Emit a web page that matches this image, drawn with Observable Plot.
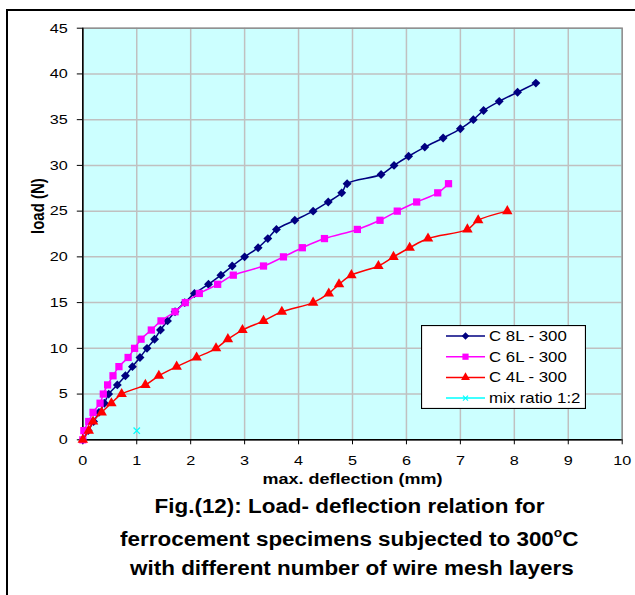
<!DOCTYPE html>
<html>
<head>
<meta charset="utf-8">
<script src="https://cdn.jsdelivr.net/npm/d3@7"></script>
<script src="https://cdn.jsdelivr.net/npm/@observablehq/plot@0.6"></script>
<style>
  body { margin: 0; background: #fff; }
  #wrap { position: relative; width: 635px; height: 595px; overflow: hidden;
          font-family: Arial, "Liberation Sans", sans-serif; color: #000; }
  #frame { position: absolute; left: 6px; top: 9px; width: 700px; height: 700px;
           border-left: 2px solid #000; border-top: 2px solid #000; }
  #chart { position: absolute; left: 0; top: 0; }
  #legend { position: absolute; left: 421px; top: 325px; }
  .cap { position: absolute; left: 0; width: 700px; text-align: center;
         font-weight: bold; font-size: 19.5px; white-space: nowrap; }
  .cap span { display: inline-block; transform: scaleX(1.15); }
  .cap sup { font-size: 12px; position: relative; top: -1px; }
</style>
</head>
<body>
<div id="wrap">
  <div id="frame"></div>
  <div id="chart"></div>
  <div id="legend"></div>
  <div class="cap" style="width:700px;top:495px"><span>Fig.(12): Load- deflection relation for</span></div>
  <div class="cap" style="width:698px;top:527px"><span>ferrocement specimens subjected to 300<sup>o</sup>C</span></div>
  <div class="cap" style="width:703px;top:557px"><span>with different number of wire mesh layers</span></div>
</div>
<script>
// Series names
const seriesNames = ["C 8L - 300", "C 6L - 300", "C 4L - 300", "mix ratio 1:2"];

// C 8L - 300
const deflection8L = [0, 0.1, 0.2, 0.3, 0.4, 0.48, 0.64, 0.79, 0.92, 1.06, 1.19, 1.33, 1.44, 1.57, 1.71,
  1.89, 2.07, 2.33, 2.56, 2.77, 3.0, 3.25, 3.43, 3.59, 3.93, 4.27, 4.55, 4.8, 4.9, 5.53, 5.77, 6.04,
  6.34, 6.68, 7.0, 7.24, 7.43, 7.72, 8.06, 8.4];
const load8L = [0, 1, 2, 3, 4, 5, 6, 7, 8, 9, 10, 11, 12, 13, 14, 15, 16, 17, 18, 19, 20, 21, 22, 23,
  24, 25, 26, 27, 28, 29, 30, 31, 32, 33, 34, 35, 36, 37, 38, 39];

// C 6L - 300
const deflection6L = [0, 0.02, 0.11, 0.19, 0.32, 0.38, 0.46, 0.56, 0.67, 0.84, 0.96, 1.08, 1.27, 1.45,
  1.71, 1.9, 2.16, 2.5, 2.79, 3.35, 3.72, 4.07, 4.48, 5.09, 5.51, 5.83, 6.19, 6.58, 6.78];
const load6L = [0, 1, 2, 3, 4, 5, 6, 7, 8, 9, 10, 11, 12, 13, 14, 15, 16, 17, 18, 19, 20, 21, 22, 23,
  24, 25, 26, 27, 28];

// C 4L - 300
const deflection4L = [0, 0.11, 0.19, 0.35, 0.53, 0.72, 1.16, 1.41, 1.74, 2.11, 2.47, 2.69, 2.96, 3.35,
  3.69, 4.27, 4.56, 4.75, 4.98, 5.48, 5.76, 6.06, 6.4, 7.13, 7.33, 7.87];
const load4L = [0, 1, 2, 3, 4, 5, 6, 7, 8, 9, 10, 11, 12, 13, 14, 15, 16, 17, 18, 19, 20, 21, 22, 23,
  24, 25];

// mix ratio 1:2
const deflectionMix = [1];
const loadMix = [1];

// Axis ticks
const xTickValues = [0, 1, 2, 3, 4, 5, 6, 7, 8, 9, 10];
const yTickValues = [0, 5, 10, 15, 20, 25, 30, 35, 40, 45];

const xTitle = "max. deflection (mm)";
const yTitle = "load (N)";

const styles = [
  { color: "#000080", symbol: "diamond2", r: 4.0 },
  { color: "#ff00ff", symbol: "square", r: 4.1 },
  { color: "#ff0000", symbol: "triangle", r: 3.9 },
  { color: "#00ffff", symbol: "times", r: 3.0 }
];

const seriesData = [
  [deflection8L, load8L],
  [deflection6L, load6L],
  [deflection4L, load4L],
  [deflectionMix, loadMix]
].map(([xs, ys], k) => xs.map((x, i) => ({ series: seriesNames[k], x, y: ys[i] })));

const marks = [
  Plot.frame({ fill: "#ccffff" }),
  Plot.gridX({ ticks: xTickValues, stroke: "#c0c0c0", strokeOpacity: 1, strokeWidth: 1.5 }),
  Plot.gridY({ ticks: yTickValues, stroke: "#c0c0c0", strokeOpacity: 1, strokeWidth: 1.5 }),
  Plot.frame({ stroke: "#8c8c8c", strokeWidth: 1.4 }),
  Plot.ruleX([0], { stroke: "#000", strokeWidth: 1.5 }),
  Plot.ruleY([0], { stroke: "#000", strokeWidth: 1.5 }),
  Plot.axisX({ ticks: xTickValues, tickSize: 5, tickPadding: 11, label: null, fontSize: 13.5 }),
  Plot.axisY({ ticks: yTickValues, tickSize: 5.5, tickPadding: 9.5, label: null, fontSize: 13.5 })
];

seriesData.forEach((rows, k) => {
  const s = styles[k];
  if (rows.length > 1) {
    marks.push(Plot.line(rows, { x: "x", y: "y", stroke: s.color, strokeWidth: 1.5, curve: "catmull-rom" }));
  }
  if (s.symbol === "times") {
    marks.push(Plot.dot(rows, { x: "x", y: "y", symbol: s.symbol, r: s.r, stroke: s.color, strokeWidth: 1.3 }));
  } else {
    marks.push(Plot.dot(rows, { x: "x", y: "y", symbol: s.symbol, r: s.r, fill: s.color, stroke: "none" }));
  }
});

marks.push(
  Plot.text([xTitle], { text: d => d, frameAnchor: "bottom", dy: 44, fontWeight: "bold", fontSize: 15 }),
  Plot.text([yTitle], { text: d => d, frameAnchor: "left", dx: -45, rotate: -90, fontWeight: "bold", fontSize: 15 })
);

const chart = Plot.plot({
  width: 635,
  height: 490,
  marginLeft: 82.3,
  marginTop: 27.7,
  marginRight: 13.3,
  marginBottom: 50.7,
  style: { background: "transparent", color: "#000", fontFamily: "Arial, 'Liberation Sans', sans-serif", fontSize: "13.5px" },
  x: { domain: [0, 10] },
  y: { domain: [0, 45] },
  marks
});

// Widen the lettering horizontally around each text's own anchor point
function widenText(svg, k) {
  const isNum = v => v != null && /^-?\d*\.?\d+(e-?\d+)?$/.test(v.trim());
  svg.querySelectorAll("text").forEach(t => {
    const tr = t.getAttribute("transform") || "";
    let tx = 0, ty = 0;
    const xa = t.getAttribute("x"), ya = t.getAttribute("y");
    if (isNum(xa)) { tx = +xa; t.removeAttribute("x"); }
    if (isNum(ya)) { ty = +ya; t.removeAttribute("y"); }
    const sc = tr.includes("rotate") ? `scale(1,${k})` : `scale(${k},1)`;
    t.setAttribute("transform", `${tr} translate(${tx},${ty}) ${sc}`.trim());
  });
}
widenText(chart, 1.2);
document.getElementById("chart").appendChild(chart);

// Legend box
const lw = 165, lh = 84;
const leg = d3.select("#legend").append("svg").attr("width", lw).attr("height", lh)
  .style("font-family", "Arial, 'Liberation Sans', sans-serif");
leg.append("rect").attr("x", 0.5).attr("y", 0.5).attr("width", lw - 1).attr("height", lh - 1)
  .attr("fill", "#fff").attr("stroke", "#000").attr("stroke-width", 1.2);
const symbolTypes = { diamond2: d3.symbolDiamond2, square: d3.symbolSquare, triangle: d3.symbolTriangle, times: d3.symbolTimes };
seriesNames.forEach((name, i) => {
  const s = styles[i];
  const cy = 11 + i * 20.7;
  const g = leg.append("g");
  g.append("line").attr("x1", 25).attr("x2", 64).attr("y1", cy).attr("y2", cy)
    .attr("stroke", s.color).attr("stroke-width", 1.5);
  const size = Math.PI * (s.r - 0.6) ** 2;
  const path = d3.symbol(symbolTypes[s.symbol], size)();
  const p = g.append("path").attr("d", path).attr("transform", `translate(44.5,${cy})`);
  if (s.symbol === "times") p.attr("fill", "none").attr("stroke", s.color).attr("stroke-width", 1.2);
  else p.attr("fill", s.color);
  g.append("text").attr("transform", `translate(68,${cy + 5}) scale(1.2,1)`)
    .attr("font-size", 14).text(name);
});
</script>
</body>
</html>
